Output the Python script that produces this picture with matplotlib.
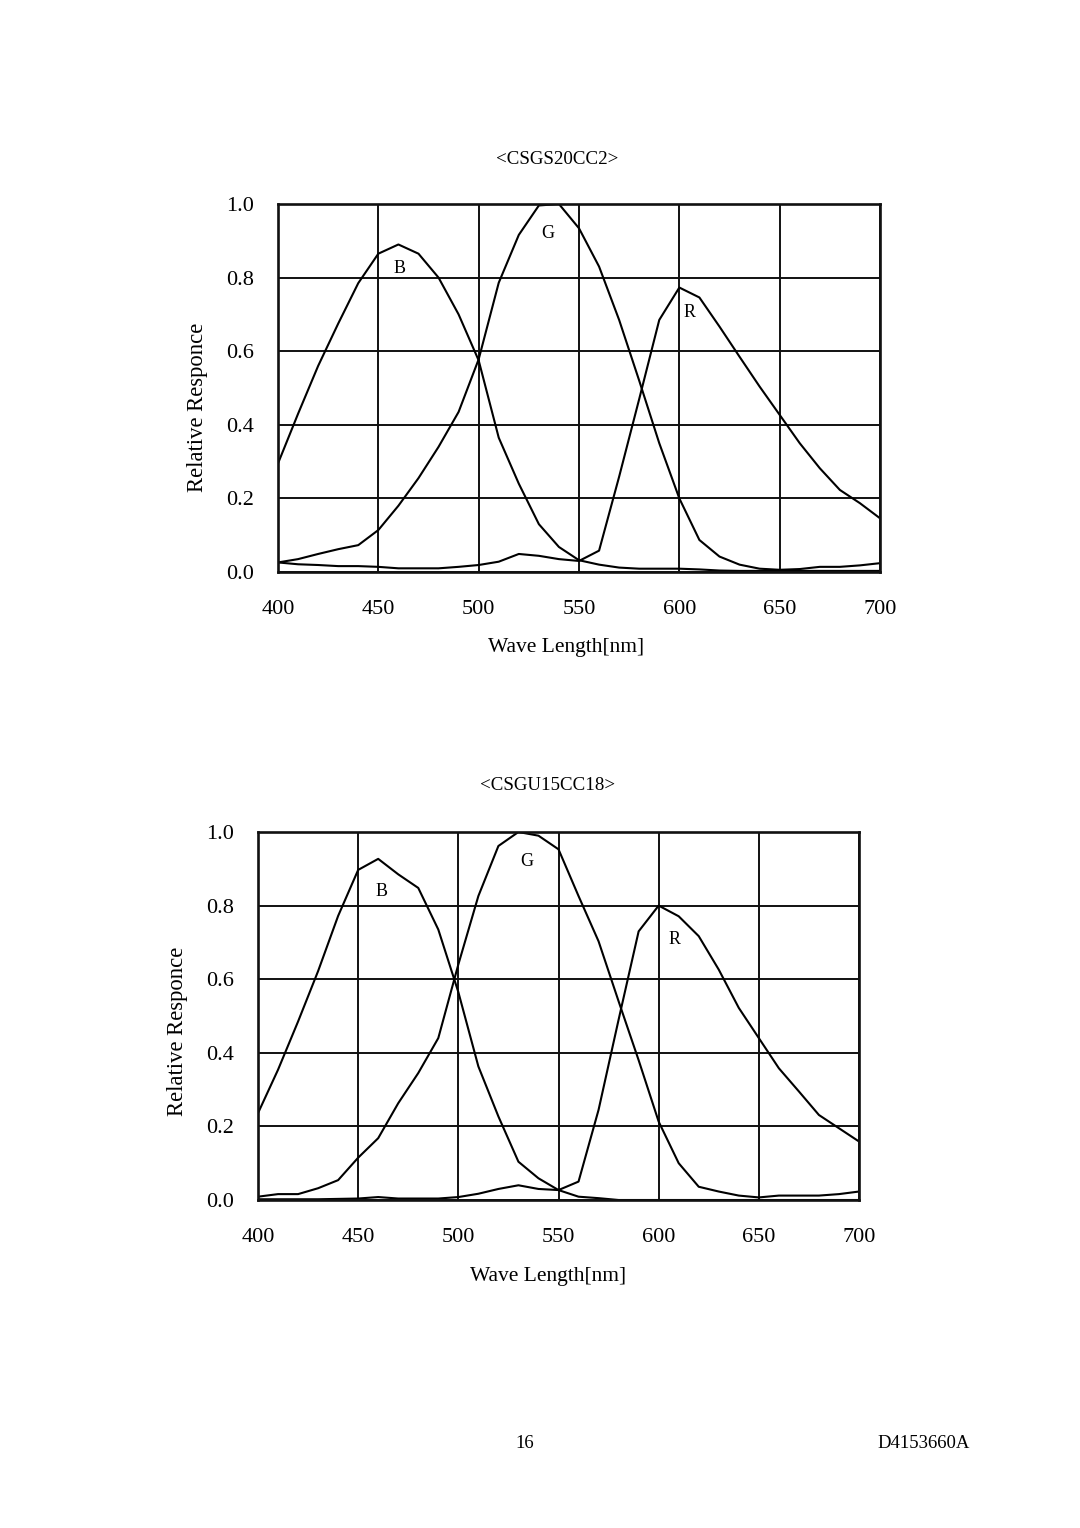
import matplotlib
matplotlib.use("Agg")
import matplotlib.pyplot as plt

plt.rcParams['font.family'] = ['Liberation Serif', 'DejaVu Serif']

wavelength = list(range(400, 701, 10))

# <CSGS20CC2>
b_top = [0.295, 0.43, 0.56, 0.675, 0.785, 0.865, 0.89, 0.865, 0.80, 0.70,
         0.575, 0.365, 0.24, 0.13, 0.068, 0.032, 0.02, 0.012, 0.009, 0.009,
         0.009, 0.007, 0.004, 0.003, 0.003, 0.003, 0.003, 0.003, 0.003, 0.003, 0.003]
g_top = [0.026, 0.035, 0.049, 0.062, 0.073, 0.114, 0.18, 0.255, 0.34, 0.435,
         0.578, 0.786, 0.916, 0.996, 1.0, 0.934, 0.83, 0.685, 0.52, 0.35,
         0.2, 0.087, 0.042, 0.02, 0.009, 0.006, 0.008, 0.014, 0.014, 0.018, 0.024]
r_top = [0.026, 0.021, 0.019, 0.016, 0.016, 0.014, 0.01, 0.01, 0.01, 0.014,
         0.019, 0.028, 0.049, 0.044, 0.035, 0.03, 0.058, 0.259, 0.47, 0.685,
         0.773, 0.746, 0.667, 0.585, 0.504, 0.427, 0.35, 0.282, 0.223, 0.187, 0.146]

# <CSGU15CC18>
b_bot = [0.236, 0.354, 0.485, 0.622, 0.772, 0.897, 0.927, 0.885, 0.848, 0.735,
         0.565, 0.363, 0.227, 0.104, 0.059, 0.027, 0.009, 0.005, 0.0, 0.0,
         0.0, 0.0, 0.0, 0.0, 0.0, 0.0, 0.0, 0.0, 0.0, 0.0, 0.0]
g_bot = [0.009, 0.016, 0.016, 0.032, 0.054, 0.115, 0.168, 0.263, 0.345, 0.44,
         0.64, 0.826, 0.962, 1.0, 0.99, 0.953, 0.826, 0.703, 0.54, 0.38,
         0.213, 0.1, 0.036, 0.023, 0.012, 0.007, 0.012, 0.012, 0.012, 0.016, 0.023]
r_bot = [0.002, 0.002, 0.002, 0.002, 0.003, 0.004, 0.008, 0.004, 0.004, 0.004,
         0.008, 0.017, 0.03, 0.04, 0.03, 0.027, 0.05, 0.245, 0.49, 0.73,
         0.8, 0.771, 0.717, 0.626, 0.522, 0.44, 0.358, 0.295, 0.231, 0.195, 0.159]

x_ticks = [400, 450, 500, 550, 600, 650, 700]
y_ticks = [0.0, 0.2, 0.4, 0.6, 0.8, 1.0]
y_ticklabels = ["0.0", "0.2", "0.4", "0.6", "0.8", "1.0"]

titles = ["<CSGS20CC2>", "<CSGU15CC18>"]
curve_labels = ["B", "G", "R"]
label_pos_top = [(460.5, 0.826), (534.5, 0.921), (605.0, 0.704)]
label_pos_bot = [(461.5, 0.837), (534.0, 0.921), (608.0, 0.707)]

W, H = 1080, 1528
fig = plt.figure(figsize=(W / 100, H / 100), dpi=100)


def px_ax(left, right, top, bottom):
    return fig.add_axes([left / W, 1 - bottom / H, (right - left) / W, (bottom - top) / H])


def draw(ax, series, label_pos, title, title_xy, xlabel_xy, ylabel_xy):
    ax.set_xlim(400, 700)
    ax.set_ylim(0, 1)
    ax.set_xticks(x_ticks)
    ax.set_yticks(y_ticks)
    ax.set_yticklabels(y_ticklabels)
    ax.grid(True, color='#111111', linewidth=1.4)
    ax.set_axisbelow(True)
    for s in ax.spines.values():
        s.set_linewidth(1.9)
        s.set_color('#111111')
    ax.tick_params(axis='both', length=0, labelsize=16)
    ax.tick_params(axis='y', pad=17)
    ax.tick_params(axis='x', pad=20.5)
    for ys in series:
        ax.plot(wavelength, ys, color='black', linewidth=1.5)
    for lab, (lx, ly) in zip(curve_labels, label_pos):
        ax.text(lx, ly, lab, fontsize=13, ha='center', va='center')
    fig.text(title_xy[0] / W, 1 - title_xy[1] / H, title, fontsize=13.6,
             ha='center', va='center')
    fig.text(xlabel_xy[0] / W, 1 - xlabel_xy[1] / H, "Wave Length[nm]", fontsize=15.5,
             ha='center', va='center')
    fig.text(ylabel_xy[0] / W, 1 - ylabel_xy[1] / H, "Relative Responce", fontsize=16.3,
             ha='center', va='center', rotation=90)


ax1 = px_ax(278, 880, 204, 572)
draw(ax1, [b_top, g_top, r_top], label_pos_top, titles[0], (557, 159), (566, 648), (197, 407))

ax2 = px_ax(258, 859, 832, 1200)
draw(ax2, [b_bot, g_bot, r_bot], label_pos_bot, titles[1], (548, 785), (548, 1277), (178, 1031))

fig.text(525 / W, 1 - 1444 / H, "16", fontsize=13.5, ha='center', va='center')
fig.text(924 / W, 1 - 1444 / H, "D4153660A", fontsize=13.5, ha='center', va='center')

fig.savefig("out.png", dpi=100, facecolor='white')
